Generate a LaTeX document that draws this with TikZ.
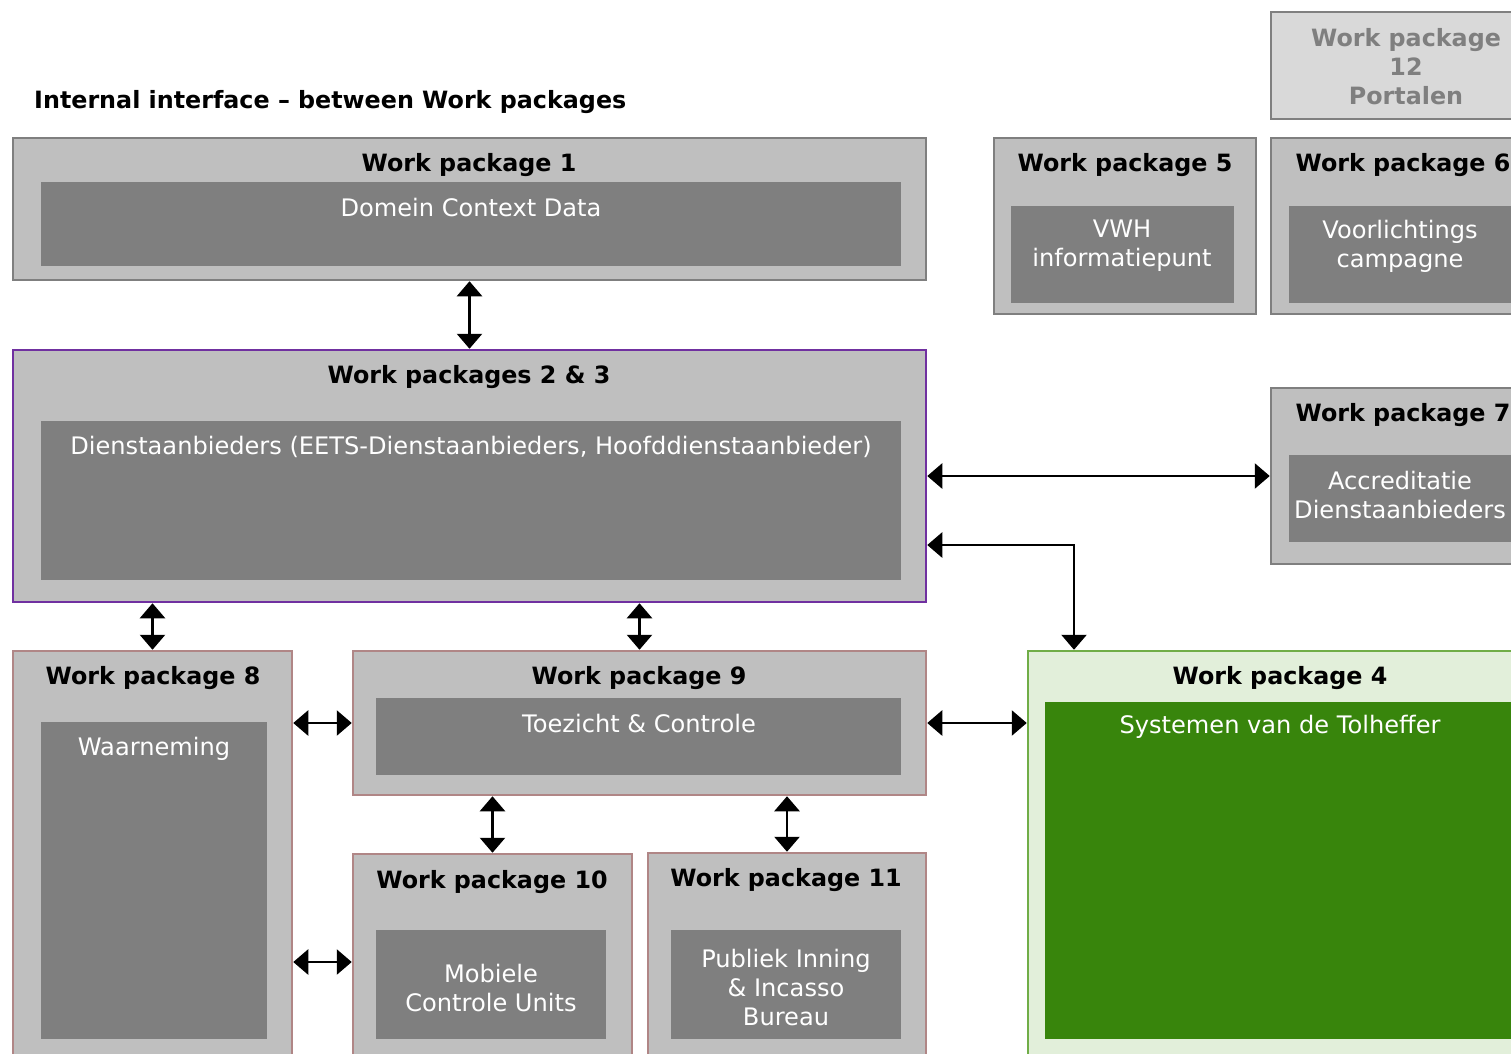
\documentclass[tikz,border=0pt]{standalone}
\usepackage{fontspec}
\setmainfont{DejaVu Sans}
\usetikzlibrary{arrows.meta}
\definecolor{boxgray}{HTML}{BFBFBF}
\definecolor{innergray}{HTML}{7F7F7F}
\definecolor{linegray}{HTML}{7F7F7F}
\definecolor{palegray}{HTML}{D9D9D9}
\definecolor{wppurple}{HTML}{7030A0}
\definecolor{wprose}{RGB}{176,134,134}
\definecolor{palegreen}{HTML}{E2EFDA}
\definecolor{wpgreen}{HTML}{70AD47}
\definecolor{darkgreen}{HTML}{38850C}
\begin{document}
\begin{tikzpicture}[x=1pt,y=-1pt,
  wp/.style={draw=linegray,fill=boxgray,line width=2.5pt,rectangle,inner sep=0pt},
  wpinner/.style={fill=innergray,rectangle,inner sep=0pt},
  wptitle/.style={font=\fontsize{23.8}{29}\selectfont\bfseries,inner sep=0pt,yshift=-2.5pt},
  wptext/.style={font=\fontsize{24.1}{29}\selectfont,text=white,align=center,inner sep=0pt,yshift=-2.5pt},
  link/.style={{Triangle[length=15pt,width=25pt]}-{Triangle[length=15pt,width=25pt]},line width=2.7pt}]
\useasboundingbox (0,0) rectangle (1511,1053);
\clip (0,0) rectangle (1511,1053);

% heading
\node (head) at (34,100) [anchor=west,wptitle] {Internal interface – between Work packages};

% work package 12
\node (wp12) at (1406,65.5)
  [wp,draw=gray,fill=palegray,minimum width=270pt,minimum height=107pt] {};
\node (wp12t) at (1406,64)
  [wptitle,text=innergray,align=center]
  {Work package\\12\\Portalen};

% top row
\node (wp1) at (469.5,209)
  [wp,minimum width=913pt,minimum height=142pt] {};
\node (wp1i) at (471,224)
  [wpinner,minimum width=860pt,minimum height=84pt] {};
\node (wp1t) at (469,163) [wptitle] {Work package 1};
\node (wp1x) at (471,205) [wptext] {Domein Context Data};

\node (wp5) at (1125,226)
  [wp,minimum width=262pt,minimum height=176pt] {};
\node (wp5i) at (1122.5,254.5)
  [wpinner,minimum width=223pt,minimum height=97pt] {};
\node (wp5t) at (1125,163) [wptitle] {Work package 5};
\node (wp5x) at (1122,243.5) [wptext] {VWH\\informatiepunt};

\node (wp6) at (1403,226)
  [wp,minimum width=264pt,minimum height=176pt] {};
\node (wp6i) at (1403,254.5)
  [wpinner,minimum width=228pt,minimum height=97pt] {};
\node (wp6t) at (1403,163) [wptitle] {Work package 6};
\node (wp6x) at (1400,243.5) [wptext] {Voorlichtings\\campagne};

% middle row
\node (wp23) at (469.5,476)
  [wp,draw=wppurple,minimum width=913pt,minimum height=252pt] {};
\node (wp23i) at (471,500.5)
  [wpinner,minimum width=860pt,minimum height=159pt] {};
\node (wp23t) at (469,375) [wptitle] {Work packages 2 \& 3};
\node (wp23x) at (471,444) [wptext]
  {Dienstaanbieders (EETS-Dienstaanbieders, Hoofddienstaanbieder)};

\node (wp7) at (1403,476)
  [wp,minimum width=264pt,minimum height=176pt] {};
\node (wp7i) at (1403,498.5)
  [wpinner,minimum width=228pt,minimum height=87pt] {};
\node (wp7t) at (1403,413) [wptitle] {Work package 7};
\node (wp7x) at (1400,492.5) [wptext] {Accreditatie\\Dienstaanbieders};

% bottom rows
\node (wp8) at (152.5,860.5)
  [wp,draw=wprose,minimum width=279pt,minimum height=419pt] {};
\node (wp8i) at (154,880.5)
  [wpinner,minimum width=226pt,minimum height=317pt] {};
\node (wp8t) at (153,676) [wptitle] {Work package 8};
\node (wp8x) at (154,746) [wptext] {Waarneming};

\node (wp9) at (639.5,723)
  [wp,draw=wprose,minimum width=573pt,minimum height=144pt] {};
\node (wp9i) at (638.5,736.5)
  [wpinner,minimum width=525pt,minimum height=77pt] {};
\node (wp9t) at (639,676) [wptitle] {Work package 9};
\node (wp9x) at (639,721) [wptext] {Toezicht \& Controle};

\node (wp10) at (492.5,962)
  [wp,draw=wprose,minimum width=279pt,minimum height=216pt] {};
\node (wp10i) at (491,984.5)
  [wpinner,minimum width=230pt,minimum height=109pt] {};
\node (wp10t) at (492,880) [wptitle] {Work package 10};
\node (wp10x) at (491,985.5) [wptext] {Mobiele\\Controle Units};

\node (wp11) at (787,961.5)
  [wp,draw=wprose,minimum width=278pt,minimum height=217pt] {};
\node (wp11i) at (786,984.5)
  [wpinner,minimum width=230pt,minimum height=109pt] {};
\node (wp11t) at (786,878) [wptitle] {Work package 11};
\node (wp11x) at (786,985) [wptext] {Publiek Inning\\\& Incasso\\Bureau};

\node (wp4) at (1280,860.5)
  [wp,draw=wpgreen,fill=palegreen,minimum width=504pt,minimum height=419pt] {};
\node (wp4i) at (1280,870.5)
  [wpinner,fill=darkgreen,minimum width=470pt,minimum height=337pt] {};
\node (wp4t) at (1280,676) [wptitle] {Work package 4};
\node (wp4x) at (1280,724) [wptext] {Systemen van de Tolheffer};

% interfaces
\draw[link] (wp1.south) -- (wp23.north);
\draw[link] (wp23.east) -- (wp7.west);
\draw[link] (wp23.east |- 0,545) -| (wp4.north -| 1074,0);
\draw[link] (wp23.south -| wp8.north) -- (wp8.north);
\draw[link] (wp23.south -| wp9.north) -- (wp9.north);
\draw[link] (wp8.east |- wp9.west) -- (wp9.west);
\draw[link] (wp9.east) -- (wp4.west |- wp9.east);
\draw[link] (wp9.south -| wp10.north) -- (wp10.north);
\draw[link] (wp9.south -| wp11.north) -- (wp11.north);
\draw[link] (wp8.east |- wp10.west) -- (wp10.west);
\end{tikzpicture}
\end{document}
